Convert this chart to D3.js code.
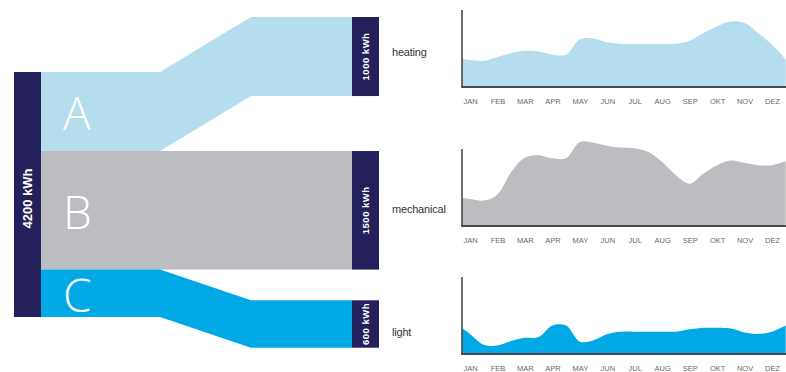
<!DOCTYPE html>
<html>
<head>
<meta charset="utf-8">
<script src="https://cdn.jsdelivr.net/npm/d3@7"></script>
<style>
  html, body { margin: 0; padding: 0; background: #fff; }
  svg { display: block; }
</style>
</head>
<body>
<svg id="chart" width="786" height="372"></svg>
<script>
// ---- data ----
const sourceLabel = "4200 kWh";
const flowKeys = ["A", "B", "C"];
const flowNames = ["heating", "mechanical", "light"];
const flowValues = [1000, 1500, 600];           // kWh per consumer
const flowColors = ["#b6ddee", "#bcbdc0", "#00a9e6"];
const nodeColor = "#24205b";

const months = ["JAN", "FEB", "MAR", "APR", "MAY", "JUN", "JUL", "AUG", "SEP", "OKT", "NOV", "DEZ"];
// half-month sample times (month index), from mid-December to mid-January of the next year
const sampleTimes = d3.range(-0.5, 11.51, 0.5);
// monthly profile of each consumer, relative units (0–100), sampled twice a month
const heatingProfile = [38, 35, 34, 39, 44, 47, 46, 42, 42, 62, 63, 58, 56, 56, 56, 56, 56, 60, 70, 79, 85, 83, 70, 55, 36];
const mechanicalProfile = [38, 35, 33, 41, 70, 89, 92, 88, 88, 109, 108, 104, 102, 101, 96, 83, 66, 55, 68, 79, 85, 82, 79, 79, 84];
const lightProfile = [39, 26, 12, 11, 17, 21, 22, 37, 37, 16, 18, 26, 29, 29, 29, 29, 29, 32, 34, 34, 33, 28, 26, 29, 37];
const profiles = [heatingProfile, mechanicalProfile, lightProfile];

// ---- layout ----
const svg = d3.select("#chart");
const leftX = 14, barW = 27, rightX = 352;
const bendStart = 160, bendEnd = 251;
const stackTop = 72;

const total = d3.sum(flowValues);
const k = d3.scaleLinear().domain([0, total]).range([0, 245]);

// stacked positions on the source bar
let acc = stackTop;
const flows = flowValues.map((v, i) => {
  const h = k(v);
  const f = { key: flowKeys[i], name: flowNames[i], value: v, color: flowColors[i], y0: acc, h };
  acc += h;
  return f;
});
const stackBottom = acc;

// target bar positions: heating at top, mechanical level with its band, light centred low
flows[0].t0 = 17;
flows[1].t0 = flows[1].y0;
flows[2].t0 = 324 - flows[2].h / 2;

// ---- ribbons ----
const ribbon = d3.line().x(d => d[0]).y(d => d[1]);
const x0 = leftX + barW;
flows.forEach(f => {
  const pts = [
    [x0, f.y0], [bendStart, f.y0], [bendEnd, f.t0], [rightX, f.t0],
    [rightX, f.t0 + f.h], [bendEnd, f.t0 + f.h], [bendStart, f.y0 + f.h], [x0, f.y0 + f.h]
  ];
  svg.append("path")
    .attr("d", ribbon(pts) + "Z")
    .attr("fill", f.color);
});

// band letters
flows.forEach(f => {
  svg.append("text")
    .attr("x", 63)
    .attr("y", f.y0 + f.h / 2 + 2)
    .attr("dy", "0.36em")
    .attr("font-family", "'Open Sans', Lato, sans-serif")
    .attr("font-weight", 300)
    .attr("font-size", 46)
    .attr("fill", "#fff")
    .text(f.key);
});

// source bar
svg.append("rect")
  .attr("x", leftX).attr("y", stackTop)
  .attr("width", barW).attr("height", stackBottom - stackTop)
  .attr("fill", nodeColor);
svg.append("text")
  .attr("transform", `translate(${leftX + barW / 2},${(stackTop + stackBottom) / 2 + 4}) rotate(-90)`)
  .attr("text-anchor", "middle")
  .attr("dy", "0.36em")
  .attr("font-family", "'Liberation Sans', Arial, sans-serif")
  .attr("font-weight", "bold")
  .attr("font-size", 13)
  .attr("fill", "#fff")
  .text(sourceLabel);

// target bars
flows.forEach(f => {
  svg.append("rect")
    .attr("x", rightX).attr("y", f.t0)
    .attr("width", barW).attr("height", f.h)
    .attr("fill", nodeColor);
  svg.append("text")
    .attr("transform", `translate(${rightX + barW / 2},${f.t0 + f.h / 2}) rotate(-90)`)
    .attr("text-anchor", "middle")
    .attr("dy", "0.36em")
    .attr("font-family", "'Liberation Sans', Arial, sans-serif")
    .attr("font-weight", "bold")
    .attr("font-size", 9.5)
    .attr("letter-spacing", 0.5)
    .attr("fill", "#fff")
    .text(`${f.value} kWh`);
});

// ---- monthly area charts ----
const axisX = 462, plotRight = 786, plotH = 77;
const chartBottoms = [87, 226, 354];
const labelCenters = [52, 209, 332];
const x = d3.scaleLinear().domain([0, 11]).range([470, 772]);

svg.append("defs").append("clipPath").attr("id", "plotClip")
  .append("rect").attr("x", axisX).attr("y", 0).attr("width", plotRight - axisX).attr("height", 372);

flows.forEach((f, i) => {
  const bottom = chartBottoms[i];
  const y = d3.scaleLinear().domain([0, 100]).range([bottom, bottom - plotH]);
  const data = sampleTimes.map((t, j) => ({ t, v: profiles[i][j] }));
  const area = d3.area()
    .x(d => x(d.t))
    .y0(y(0))
    .y1(d => y(d.v))
    .curve(d3.curveCatmullRom.alpha(0.5));

  svg.append("path")
    .datum(data)
    .attr("clip-path", "url(#plotClip)")
    .attr("d", area)
    .attr("fill", f.color);

  // axes
  svg.append("line")
    .attr("x1", axisX).attr("x2", axisX)
    .attr("y1", y(100)).attr("y2", bottom)
    .attr("stroke", "#4a4a4a").attr("stroke-width", 1.6);
  svg.append("line")
    .attr("x1", axisX - 0.8).attr("x2", plotRight)
    .attr("y1", bottom).attr("y2", bottom)
    .attr("stroke", "#4a4a4a").attr("stroke-width", 1.8);

  const ax = svg.append("g")
    .attr("transform", `translate(0,${bottom + 14})`)
    .call(d3.axisBottom(x).tickValues(d3.range(12)).tickSize(0).tickPadding(0)
      .tickFormat(d => months[d]));
  ax.select(".domain").remove();
  ax.selectAll("text")
    .attr("dy", "0.36em")
    .attr("y", 0)
    .attr("font-family", "'Liberation Sans Narrow', 'Liberation Sans', sans-serif")
    .attr("font-size", 7.5)
    .attr("fill", "#6a6a6a");

  // consumer name
  svg.append("text")
    .attr("x", 392)
    .attr("y", labelCenters[i])
    .attr("dy", "0.36em")
    .attr("font-family", "'Liberation Sans', Arial, sans-serif")
    .attr("font-size", 11)
    .attr("letter-spacing", -0.2)
    .attr("fill", "#333")
    .text(f.name);
});
</script>
</body>
</html>
